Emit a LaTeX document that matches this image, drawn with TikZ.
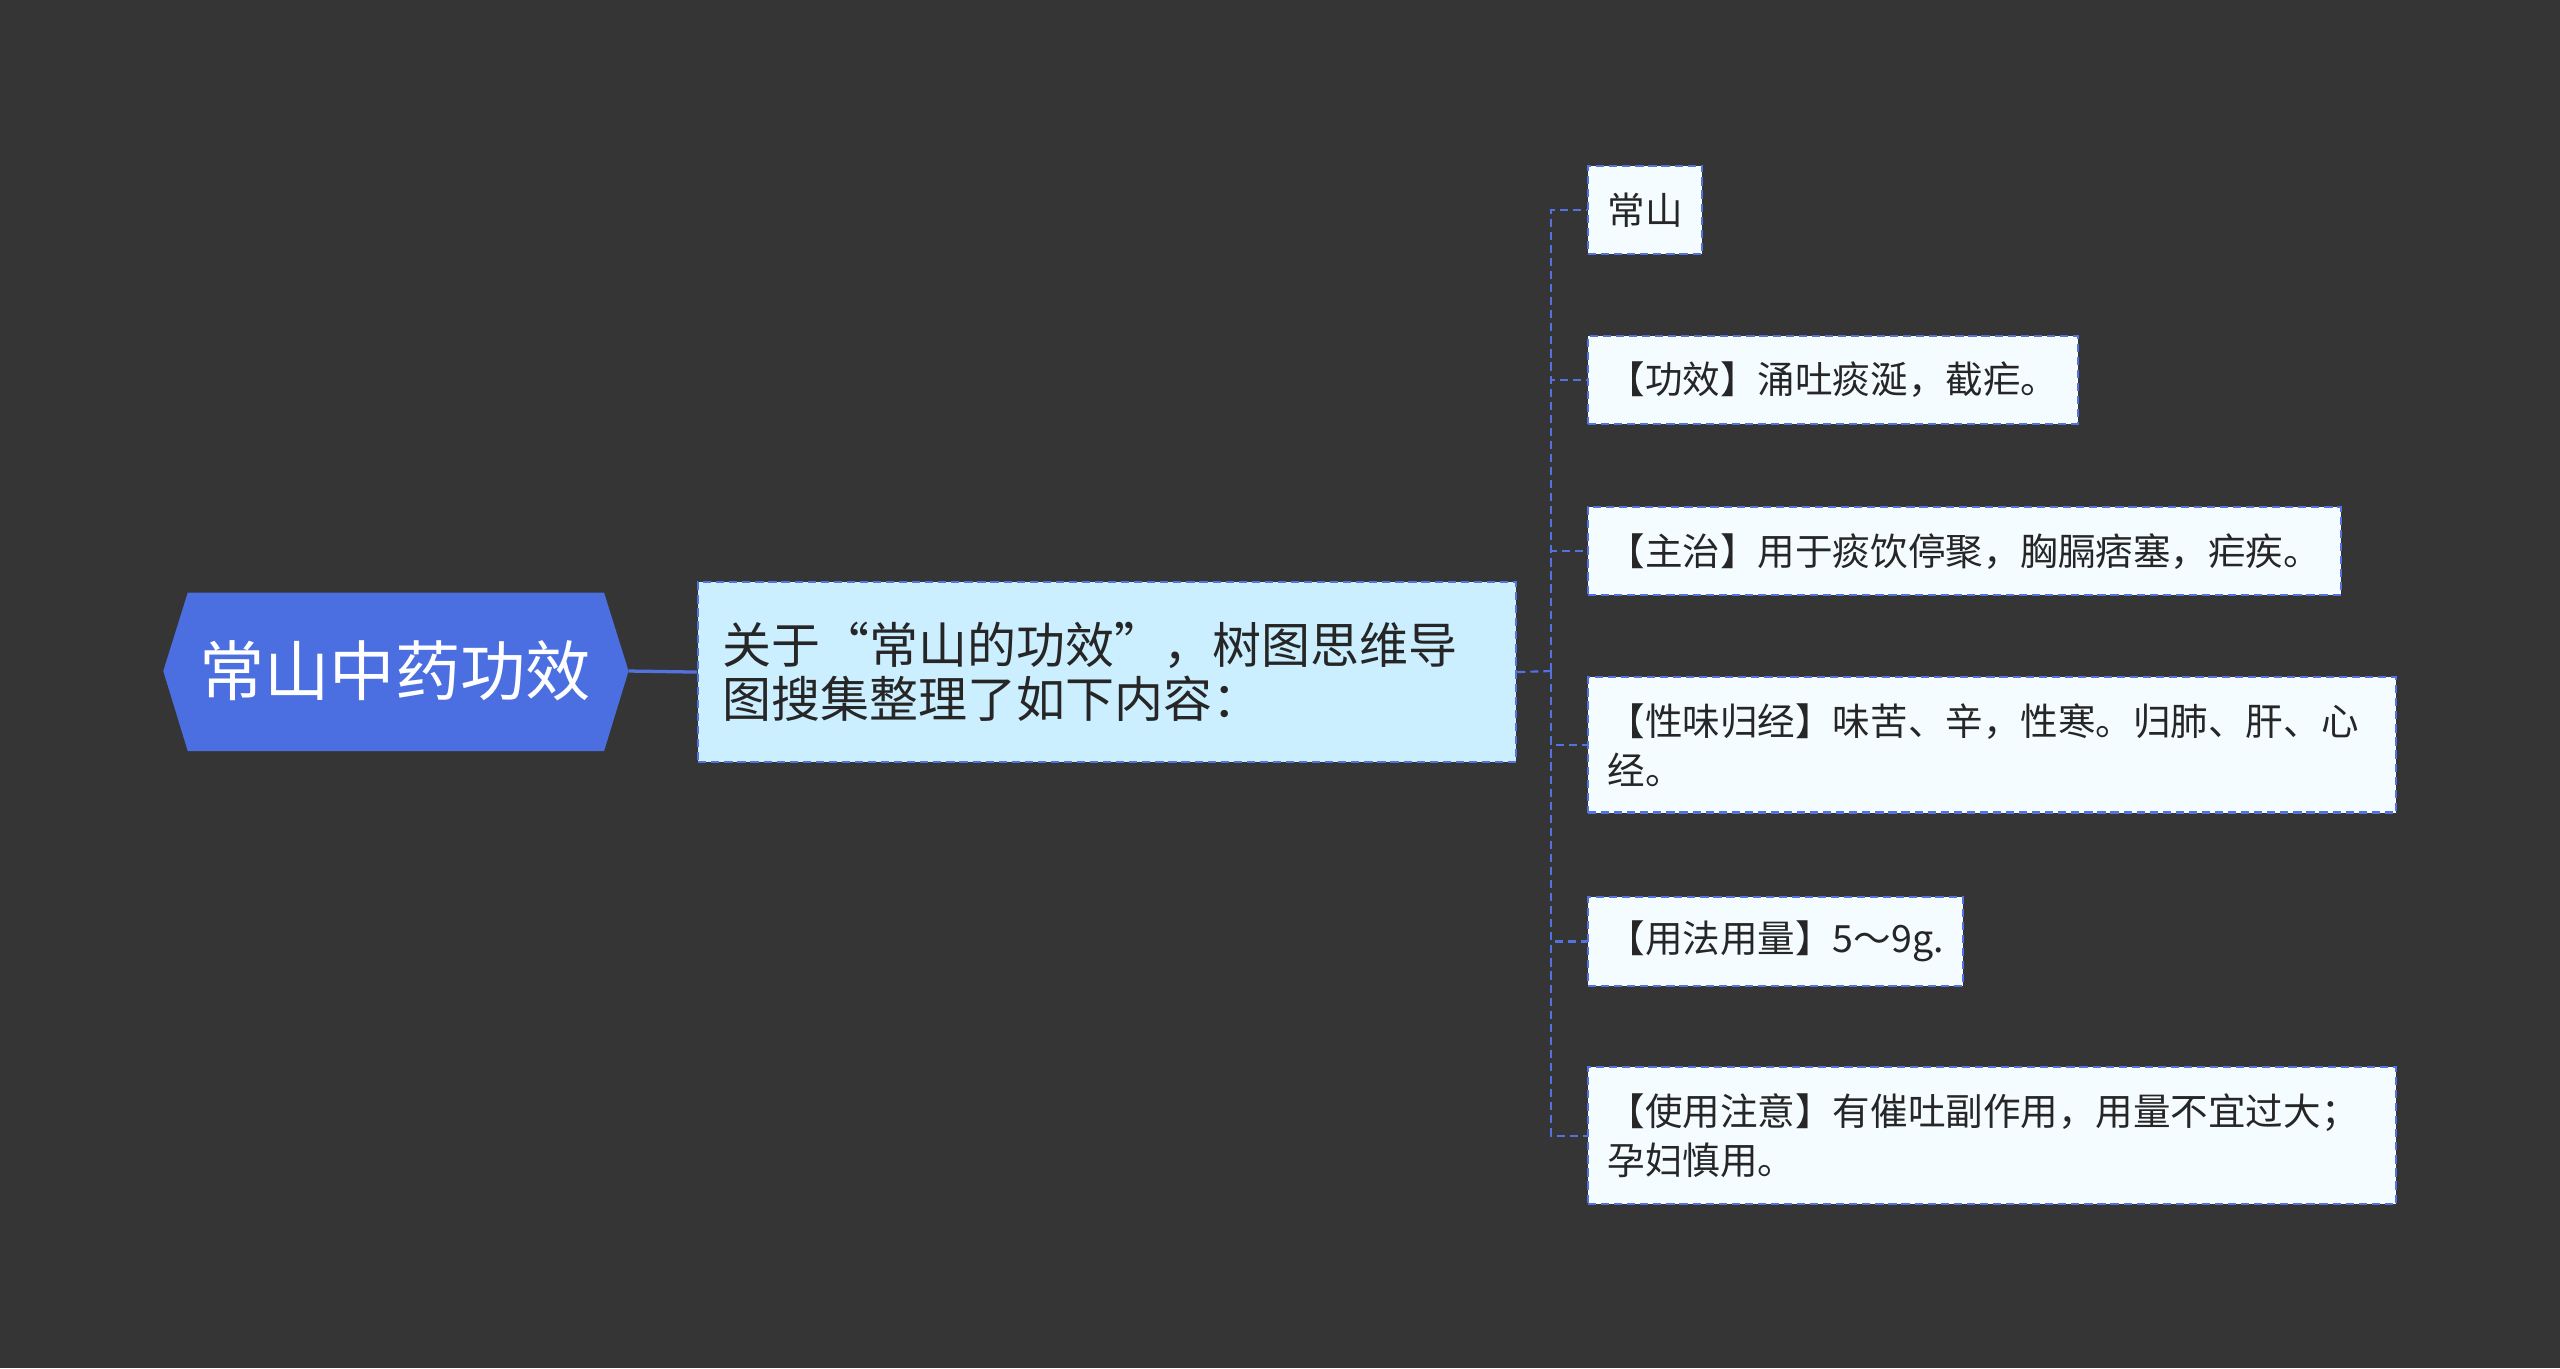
\documentclass[tikz,border=0pt]{standalone}
\usepackage{fontspec}
\setmainfont{Noto Sans CJK SC}
\usetikzlibrary{positioning}
\definecolor{bg}{HTML}{363536}
\definecolor{rootblue}{HTML}{4B6FE0}
\definecolor{mainfill}{HTML}{CCEFFF}
\definecolor{leaffill}{HTML}{F4FCFF}
\definecolor{edgeblue}{HTML}{5272E0}
\tikzset{
  mainbox/.style={draw=edgeblue,dash pattern=on 5pt off 3pt,line width=1.3pt,fill=mainfill,anchor=north west,
    align=left,inner xsep=15pt,text width=471pt,minimum height=110pt,
    font=\fontsize{30}{33}\selectfont,text=black!85},
  leafbox/.style={draw=edgeblue,dash pattern=on 5pt off 3pt,line width=1.3pt,fill=leaffill,anchor=north west,
    align=left,inner xsep=12pt,minimum height=54pt,
    font=\fontsize{23}{30}\selectfont,text=black!85},
  link/.style={edgeblue,dash pattern=on 5pt off 3pt,line width=1.3pt}
}
\begin{document}
\begin{tikzpicture}[x=1pt,y=-1pt]
    \fill[bg] (0,0) rectangle (1568,838);
    \useasboundingbox (0,0) rectangle (1568,838);
    % root
    \fill[rootblue] (100,411) -- (115,363) -- (370,363) -- (385,411) -- (370,460) -- (115,460) -- cycle;
    \node[text=white,font=\fontsize{40}{44}\selectfont] (root) at (242,411) {常山中药功效};
    \coordinate (rootr) at (385,411);
    % main
    \node[mainbox] (main) at (427,356) {关于“常山的功效”，树图思维导\\图搜集整理了如下内容：};
    \draw[edgeblue,line width=2pt] (rootr) -- (main.west);
    % leaves
    \node[leafbox] (c1) at (972,101) {常山};
    \node[leafbox] (c2) at (972,205) {【功效】涌吐痰涎，截疟。};
    \node[leafbox] (c3) at (972,310) {【主治】用于痰饮停聚，胸膈痞塞，疟疾。};
    \node[leafbox,text width=471pt,minimum height=83pt] (c4) at (972,414) {【性味归经】味苦、辛，性寒。归肺、肝、心\\经。};
    \node[leafbox] (c5) at (972,549) {【用法用量】5～9g.};
    \node[leafbox,text width=471pt,minimum height=84pt] (c6) at (972,653) {【使用注意】有催吐副作用，用量不宜过大；\\孕妇慎用。};
    \coordinate (fork) at (950,411);
    \draw[link] (main.east) -- (fork);
    \foreach \c in {c1,c2,c3,c4,c5,c6}
        \draw[link] (fork) |- (\c.west);
\end{tikzpicture}
\end{document}
